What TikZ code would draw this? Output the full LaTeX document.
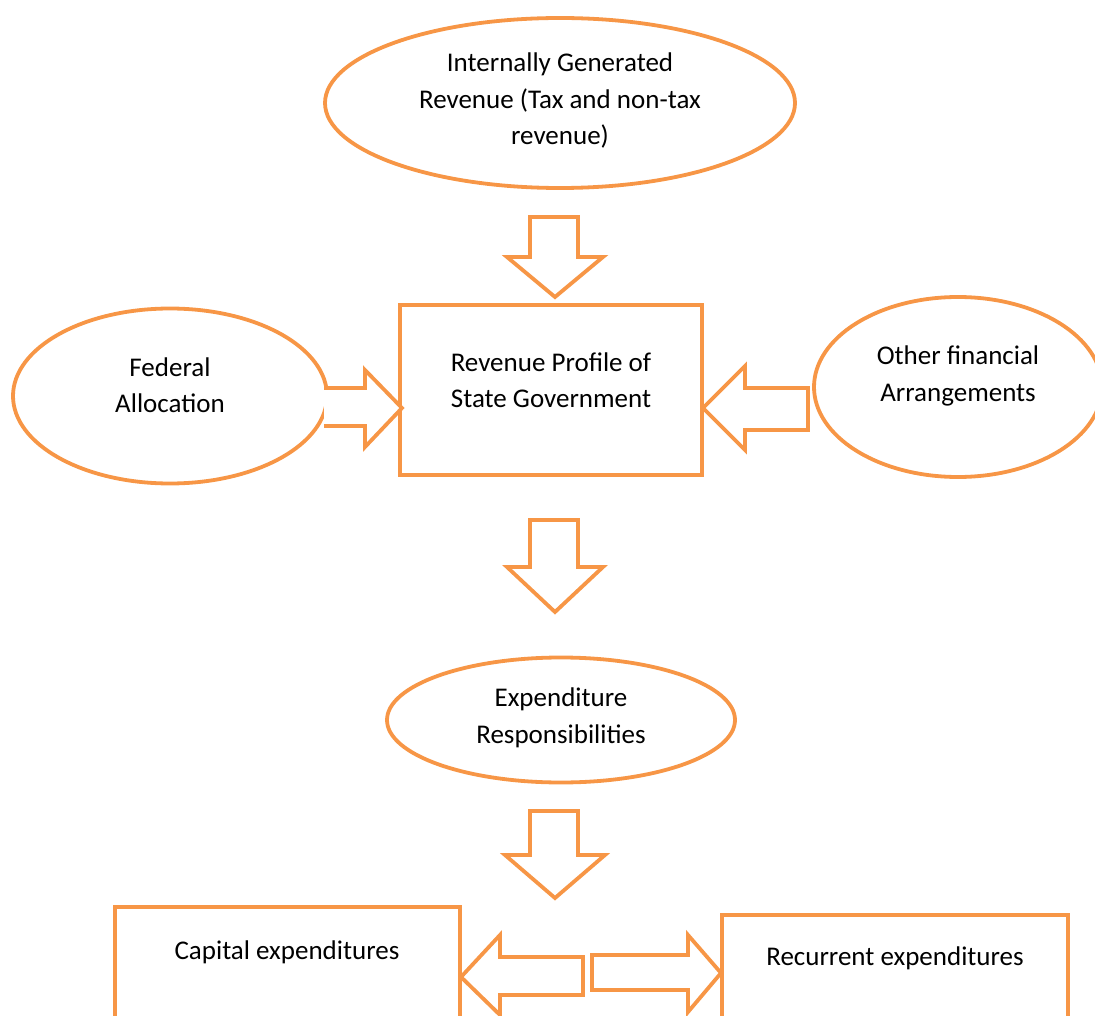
\documentclass[tikz,border=0pt]{standalone}
\usepackage{fontspec}
\setmainfont{Carlito}
\usetikzlibrary{shapes.geometric}
\definecolor{accent}{HTML}{F79646}
\tikzset{
  shp/.style={draw=accent, line width=3.8pt, fill=white},
  ell/.style={shp, ellipse, inner sep=0pt},
  box/.style={shp, rectangle, inner sep=0pt},
  txt/.style={font=\fontsize{27}{36.5}\selectfont, align=center, text=black, inner sep=0pt},
  blk/.style={draw=accent, line width=3.8pt, fill=white, line join=miter}
}
\begin{document}
\begin{tikzpicture}[x=1pt,y=-1pt]
\useasboundingbox (0,0) rectangle (1095,1016);
\clip (0,0) rectangle (1095,1016);
% shapes
\node[ell, minimum width=470, minimum height=170] (igr) at (560,103) {};
\node[box, minimum width=302, minimum height=170] (rev) at (551,390) {};
\node[ell, minimum width=314, minimum height=175] (fed) at (170,396) {};
\node[ell, minimum width=288, minimum height=180] (oth) at (958,387) {};
\node[ell, minimum width=348, minimum height=125] (exp) at (561,720) {};
\node[box, minimum width=345, minimum height=200] (cap) at (287.5,1007) {};
\node[box, minimum width=346, minimum height=200] (rec) at (895,1015) {};
% texts
\node[txt] (t1) at (560,101) {Internally Generated\\Revenue (Tax and non-tax\\revenue)};
\node[txt] (t2) at (551,380) {Revenue Profile of\\State Government};
\node[txt] (t3) at (170,385) {Federal\\Allocation};
\node[txt] (t4) at (958,376) {Other financial\\Arrangements};
\node[txt] (t5) at (561,718) {Expenditure\\Responsibilities};
\node[txt] (t6) at (287,952) {Capital expenditures};
\node[txt] (t7) at (895,958) {Recurrent expenditures};
% block arrows
\draw[blk] (530,217) -- (578,217) -- (578,257) -- (603,257) -- (555,297) -- (507,257) -- (530,257) -- cycle;
\draw[blk] (530,520) -- (578,520) -- (578,567) -- (603,567) -- (555,612) -- (507,567) -- (530,567) -- cycle;
\draw[blk] (530,811) -- (578,811) -- (578,855) -- (605,855) -- (555,898) -- (505,855) -- (530,855) -- cycle;
\draw[blk] (324,388) -- (365,388) -- (365,370) -- (402,408) -- (365,447) -- (365,426) -- (324,426);
\draw[blk] (808,388) -- (745,388) -- (745,366) -- (703,408) -- (745,450) -- (745,430) -- (808,430) -- cycle;
\draw[blk] (583,957) -- (500,957) -- (500,935) -- (461,977) -- (500,1015) -- (500,995) -- (583,995) -- cycle;
\draw[blk] (592,955) -- (688,955) -- (688,935) -- (721,973) -- (688,1012) -- (688,990) -- (592,990) -- cycle;
\end{tikzpicture}
\end{document}
